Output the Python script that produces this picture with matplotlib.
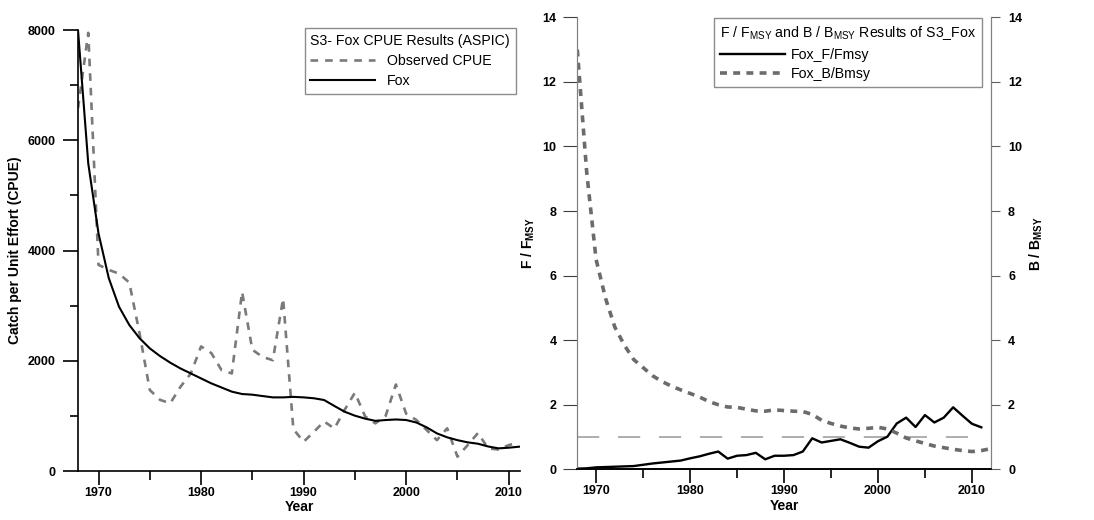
import matplotlib
matplotlib.use("Agg")
import matplotlib.pyplot as plt
from matplotlib.ticker import MultipleLocator

plt.rcParams["font.family"] = ["Liberation Sans", "DejaVu Sans"]
plt.rcParams["mathtext.fontset"] = "custom"
plt.rcParams["mathtext.rm"] = "Liberation Sans"
plt.rcParams["mathtext.bf"] = "Liberation Sans:bold"
plt.rcParams["mathtext.it"] = "Liberation Sans:italic"
plt.rcParams["lines.scale_dashes"] = False

# ---- data ----
years = list(range(1968, 2012))
observed_cpue = [6580, 7950, 3740, 3650, 3580, 3420, 2500, 1470, 1290, 1230,
                 1530, 1770, 2260, 2140, 1830, 1770, 3250, 2200, 2070, 2010,
                 3130, 760, 530, 710, 900, 770, 1110, 1420, 990, 865,
                 1000, 1570, 1040, 925, 744, 560, 775, 260, 470, 690,
                 410, 390, 470, 515]
fox_cpue = [8000, 5580, 4310, 3500, 2980, 2650, 2410, 2225, 2085, 1965,
            1860, 1770, 1680, 1590, 1515, 1440, 1397, 1385, 1360, 1336,
            1336, 1345, 1336, 1320, 1288, 1180, 1076, 1004, 950, 910,
            925, 935, 925, 880, 792, 683, 611, 560, 520, 495,
            445, 411, 423, 441]

f_years = list(range(1968, 2012))
f_fmsy = [0.02, 0.03, 0.06, 0.07, 0.08, 0.09, 0.10, 0.14, 0.18, 0.21,
          0.24, 0.27, 0.34, 0.40, 0.48, 0.55, 0.33, 0.42, 0.44, 0.51,
          0.31, 0.42, 0.42, 0.44, 0.55, 0.96, 0.83, 0.88, 0.93, 0.82,
          0.70, 0.67, 0.87, 1.01, 1.42, 1.60, 1.31, 1.68, 1.45, 1.60,
          1.92, 1.66, 1.41, 1.30]
b_years = list(range(1968, 2013))
b_bmsy = [13.0, 9.2, 6.5, 5.3, 4.4, 3.85, 3.4, 3.15, 2.9, 2.72,
          2.58, 2.46, 2.35, 2.24, 2.1, 2.0, 1.93, 1.92, 1.86, 1.81,
          1.80, 1.84, 1.82, 1.80, 1.79, 1.70, 1.52, 1.42, 1.34, 1.28,
          1.25, 1.27, 1.30, 1.25, 1.12, 0.97, 0.88, 0.80, 0.72, 0.67,
          0.62, 0.58, 0.55, 0.58, 0.64]
ref_level = 1
ref_span = (1968, 2010)

fig = plt.figure(figsize=(10.94, 5.2), dpi=100)

TICK_FS = 9
LABEL_FS = 10
LEG_FS = 10.2

# ---- left panel: CPUE ----
ax1 = fig.add_axes([0.0713, 0.0942, 0.404, 0.848])
ax1.plot(years, observed_cpue, color="#7a7a7a", lw=1.9,
         ls=(0, (5.5, 5)), label="Observed CPUE")
ax1.plot(years, fox_cpue, color="black", lw=1.5, label="Fox")
ax1.set_xlim(1968, 2011.1)
ax1.set_ylim(0, 8000)
ax1.xaxis.set_major_locator(MultipleLocator(10))
ax1.xaxis.set_minor_locator(MultipleLocator(5))
ax1.yaxis.set_major_locator(MultipleLocator(2000))
ax1.yaxis.set_minor_locator(MultipleLocator(1000))
for s in ["top", "right"]:
    ax1.spines[s].set_visible(False)
for s in ["left", "bottom"]:
    ax1.spines[s].set_linewidth(1.2)
ax1.tick_params(axis="x", which="major", direction="out", length=10, width=1.2, pad=1.5)
ax1.tick_params(axis="x", which="minor", direction="out", length=6.5, width=1.2)
ax1.tick_params(axis="y", which="major", direction="out", length=11, width=1.2, pad=5)
ax1.tick_params(axis="y", which="minor", direction="out", length=6, width=1.2)
for lab in ax1.get_xticklabels() + ax1.get_yticklabels():
    lab.set_fontsize(TICK_FS)
    lab.set_fontweight("bold")
ax1.set_xlabel("Year", fontsize=LABEL_FS, fontweight="bold", labelpad=1)
ax1.set_ylabel("Catch per Unit Effort (CPUE)", fontsize=LABEL_FS, fontweight="bold", labelpad=4)
leg1 = ax1.legend(title="S3- Fox CPUE Results (ASPIC)", loc="upper right",
                  bbox_to_anchor=(0.99, 1.005), borderaxespad=0, fontsize=LEG_FS,
                  title_fontsize=LEG_FS, alignment="left", fancybox=False,
                  handlelength=4.6, handletextpad=0.8, labelspacing=0.45,
                  borderpad=0.4)
leg1.get_frame().set_edgecolor("#707070")
leg1.get_frame().set_linewidth(1.0)

# ---- right panel: F/Fmsy and B/Bmsy ----
ax2 = fig.add_axes([0.5277, 0.0975, 0.3779, 0.8692])
ax3 = ax2.twinx()
ax2.hlines(ref_level, ref_span[0], ref_span[1], color="#a8a8a8", lw=1.3,
           linestyles=[(0, (16, 13.5))])
l_f, = ax2.plot(f_years, f_fmsy, color="black", lw=1.7, label="Fox_F/Fmsy")
l_b, = ax3.plot(b_years, b_bmsy, color="#6b6b6b", lw=2.6,
                ls=(0, (5, 4.5)), label="Fox_B/Bmsy")
for a in (ax2, ax3):
    a.set_xlim(1968, 2012)
    a.set_ylim(0, 14)
    a.yaxis.set_major_locator(MultipleLocator(2))
    a.spines["top"].set_visible(False)
    a.spines["left"].set_color("#808080")
    a.spines["left"].set_linewidth(0.8)
    a.spines["right"].set_color("#808080")
    a.spines["right"].set_linewidth(0.8)
    a.spines["bottom"].set_linewidth(1.2)
ax2.xaxis.set_major_locator(MultipleLocator(10))
ax2.xaxis.set_minor_locator(MultipleLocator(5))
ax2.tick_params(axis="x", which="major", direction="out", length=10, width=1.2, pad=1.5)
ax2.tick_params(axis="x", which="minor", direction="out", length=6.5, width=1.2)
ax2.tick_params(axis="y", direction="out", length=10, width=0.8, color="#404040", pad=5)
ax3.tick_params(axis="y", direction="out", length=6.5, width=0.8, color="#606060", pad=6)
for lab in ax2.get_xticklabels() + ax2.get_yticklabels() + ax3.get_yticklabels():
    lab.set_fontsize(TICK_FS)
    lab.set_fontweight("bold")
ax2.set_xlabel("Year", fontsize=LABEL_FS, fontweight="bold", labelpad=1)
ax2.set_ylabel(r"F / F$_\mathbf{MSY}$", fontsize=LABEL_FS, fontweight="bold", labelpad=4)
ax3.set_ylabel(r"B / B$_\mathbf{MSY}$", fontsize=LABEL_FS, fontweight="bold", labelpad=4)
leg2 = ax3.legend(handles=[l_f, l_b],
                  title=r"F / F$_\mathrm{MSY}$ and B / B$_\mathrm{MSY}$ Results of S3_Fox",
                  loc="upper right", bbox_to_anchor=(0.978, 0.998), borderaxespad=0,
                  fontsize=LEG_FS, title_fontsize=LEG_FS, alignment="left", fancybox=False,
                  handlelength=4.6, handletextpad=0.4, labelspacing=0.4, borderpad=0.4)
leg2.get_frame().set_edgecolor("#707070")
leg2.get_frame().set_linewidth(1.0)

fig.savefig("out.png", dpi=100)
